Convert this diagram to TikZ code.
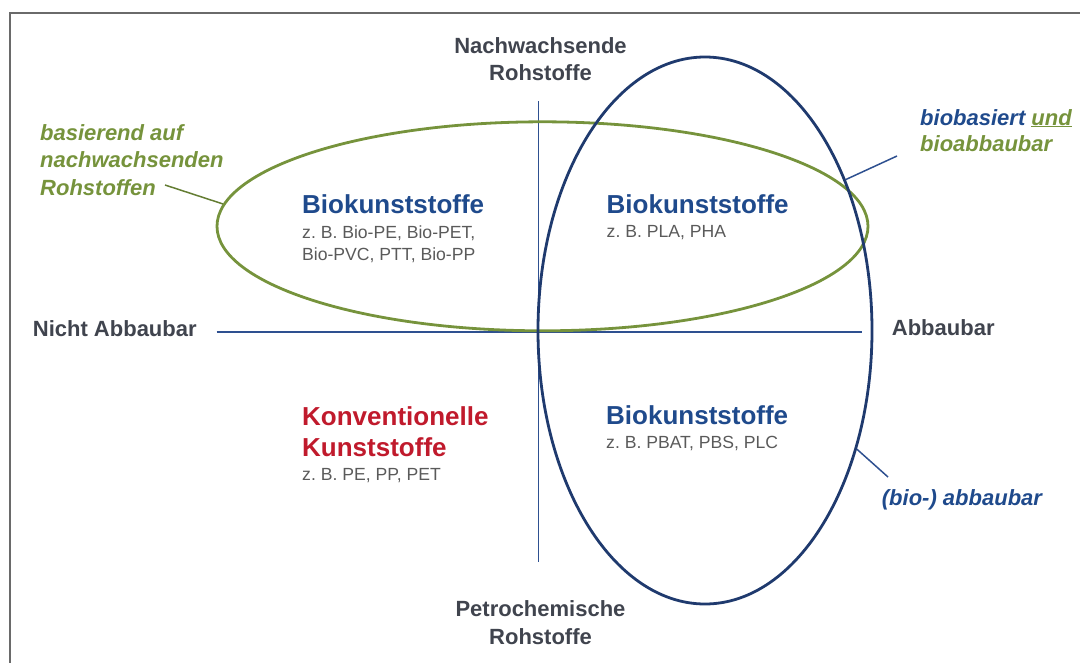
\documentclass[tikz,border=0pt]{standalone}
\usepackage{fontspec}
\setmainfont{Liberation Sans}
\frenchspacing
\usetikzlibrary{shapes.geometric,positioning}
\definecolor{blauRing}{HTML}{1F3A6E}
\definecolor{blauText}{HTML}{1F4A8C}
\definecolor{blauAchse}{HTML}{2E5090}
\definecolor{gruenRing}{HTML}{76933C}
\definecolor{rotText}{HTML}{C01A2C}
\definecolor{grauText}{HTML}{5A5A5A}
\definecolor{grauLabel}{HTML}{40444E}
\definecolor{rahmenGrau}{HTML}{6A6A6A}
\begin{document}
\begin{tikzpicture}
[x=1pt,y=-1pt,
  achseDecorate/.style={-,line width=1.6pt,draw=blauAchse},
  ringDecorate/.style={shape=ellipse,inner sep=0pt,draw,line width=2.8pt},
  leaderDecorate/.style={-,line width=1.5pt},
  titelText/.style={inner sep=0pt,anchor=base west,font=\fontsize{26}{31}\selectfont\bfseries},
  beispielText/.style={inner sep=0pt,anchor=base west,text=grauText,font=\fontsize{17.6}{21.7}\selectfont},
  achsenText/.style={inner sep=0pt,text=grauLabel,font=\fontsize{22}{27}\selectfont\bfseries},
  notizText/.style={inner sep=0pt,anchor=base west,font=\fontsize{22}{27.5}\selectfont\bfseries\itshape}]
\useasboundingbox (0,0) rectangle (1080,662);
%% frame
\draw[rahmenGrau,line width=2pt] (10,700) -- (10,13.3) -- (1100,13.3);
%% axes
\coordinate (achseOben) at (538.3,101);
\coordinate (achseUnten) at (538.3,562);
\coordinate (achseLinks) at (216.7,332);
\coordinate (achseRechts) at (861.7,332);
\draw[achseDecorate] (achseOben) -- (achseUnten);
\draw[achseDecorate] (achseLinks) -- (achseRechts);
%% rings
\node (gruen) at (542.5,226.3) [ringDecorate,draw=gruenRing,minimum width=651,minimum height=209] {};
\node (blau) at (705,330.5) [ringDecorate,draw=blauRing,minimum width=334,minimum height=547] {};
%% axis labels
\node (nachw1) at (540.5,53.3) [achsenText,anchor=base] {Nachwachsende};
\node (nachw2) [achsenText,below=27pt of nachw1.base,anchor=base] {Rohstoffe};
\node (petro1) at (540.5,616) [achsenText,anchor=base] {Petrochemische};
\node (petro2) [achsenText,below=28pt of petro1.base,anchor=base] {Rohstoffe};
\node (nicht) at (32.7,336.7) [achsenText,anchor=base west] {Nicht Abbaubar};
\node (abbau) at (891.7,335.7) [achsenText,anchor=base west] {Abbaubar};
%% quadrants
\node (bioA) at (302,213.3) [titelText,text=blauText] {Biokunststoffe};
\node (bioA1) [beispielText,below=25pt of bioA.base west,anchor=base west] {z. B. Bio-PE, Bio-PET,};
\node (bioA2) [beispielText,below=21.7pt of bioA1.base west,anchor=base west] {Bio-PVC, PTT, Bio-PP};
\node (bioB) at (606.5,213.3) [titelText,text=blauText] {Biokunststoffe};
\node (bioB1) [beispielText,below=24.5pt of bioB.base west,anchor=base west] {z. B. PLA, PHA};
\node (bioC) at (606,424.3) [titelText,text=blauText] {Biokunststoffe};
\node (bioC1) [beispielText,below=24pt of bioC.base west,anchor=base west] {z. B. PBAT, PBS, PLC};
\node (konv1) at (302,425) [titelText,text=rotText] {Konventionelle};
\node (konv2) [titelText,text=rotText,below=31.7pt of konv1.base west,anchor=base west] {Kunststoffe};
\node (konv3) [beispielText,below=23.3pt of konv2.base west,anchor=base west] {z. B. PE, PP, PET};
%% notes
\node (basis1) at (40,140) [notizText,text=gruenRing] {basierend auf};
\node (basis2) [notizText,text=gruenRing,below=27.5pt of basis1.base west,anchor=base west] {nachwachsenden};
\node (basis3) [notizText,text=gruenRing,below=27.5pt of basis2.base west,anchor=base west] {Rohstoffen};
\node (beide1) at (920,125) [notizText] {\textcolor{blauText}{biobasiert} \textcolor{gruenRing}{\underline{und}}};
\node (beide2) [notizText,text=gruenRing,below=26.7pt of beide1.base west,anchor=base west] {bioabbaubar};
\node (abbauNote) at (881.7,505) [notizText,text=blauText] {(bio-) abbaubar};
%% leaders
\coordinate (basisEnde) at (165,185);
\coordinate (beideEnde) at (897,156);
\coordinate (abbauEnde) at (888,477);
\draw[leaderDecorate,draw=gruenRing!85!black] (basisEnde) -- (gruen.176.8);
\draw[leaderDecorate,draw=blauAchse] (blau.47.5) -- (beideEnde);
\draw[leaderDecorate,draw=blauAchse] (blau.-38.8) -- (abbauEnde);
\end{tikzpicture}
\end{document}
